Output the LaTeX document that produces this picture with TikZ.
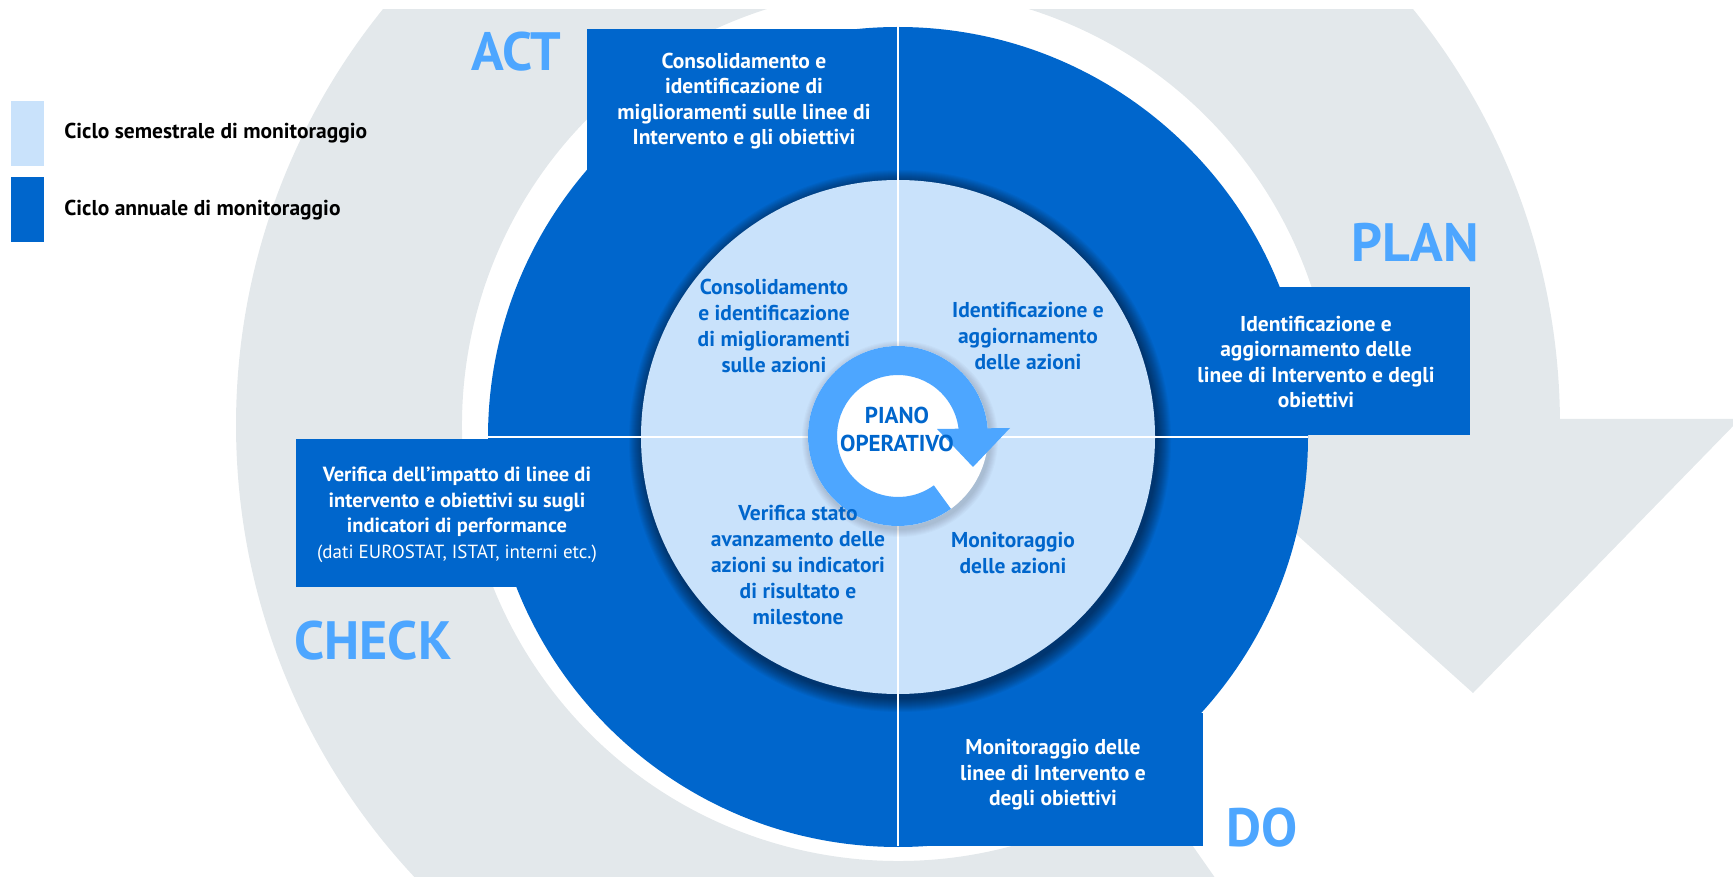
\documentclass[tikz,border=0pt]{standalone}
\usepackage{fontspec}
\setmainfont{PT Sans}
\usetikzlibrary{positioning,calc}
\definecolor{pdblue}{HTML}{0066CC}
\definecolor{pdlight}{HTML}{C9E2FB}
\definecolor{pdsky}{HTML}{4DA6FF}
\definecolor{pdgray}{HTML}{E3E8EB}

\begin{document}
\begin{tikzpicture}[x=1pt,y=1pt,
  boxtext/.style={text=white,font=\bfseries\fontsize{21.5}{25.5}\selectfont,align=center,inner sep=0pt},
  intext/.style={text=pdblue,font=\bfseries\fontsize{21.5}{26}\selectfont,align=center,inner sep=0pt},
  phase/.style={text=pdsky,font=\bfseries\fontsize{54}{54}\selectfont,anchor=base,inner sep=0pt},
  legkey/.style={minimum width=33pt,minimum height=65pt,inner sep=0pt},
  legtext/.style={font=\bfseries\fontsize{21.5}{24}\selectfont,anchor=west,inner sep=0pt}]
  \useasboundingbox (0,0) rectangle (1733,876);
  \coordinate (c) at (898,439);
  \coordinate (g) at (898,451);
  \coordinate (p) at (898,440);

  % grey cycle arrow
  \begin{scope}
    \clip (0,0) rectangle (1733,866);
    \fill[pdgray] ($(g)+(0.5:662)$) arc[start angle=0.5,end angle=305,radius=662]
      -- ($(g)+(305:436)$) arc[start angle=305,end angle=0.8,radius=436] -- cycle;
    \fill[pdgray] (1168,457) -- (1740,457) -- (1473,183) -- cycle;
  \end{scope}

  \fill[pdblue] (c) circle[radius=410];
  \fill[pdblue] (587,705) rectangle (896,847);
  \fill[pdblue] (1200,441) rectangle (1470,589);
  \fill[pdblue] (296,289) rectangle (620,437);
  \fill[pdblue] (900,30) rectangle (1203,163);

  \foreach \k in {1,...,14}
    \fill[black,opacity=0.04] ($(c)+(2,-4)$) circle[radius=257+\k];
  \fill[pdlight] (c) circle[radius=257];

  \draw[white,line width=2.5pt] ($(c)+(0,411)$) -- ($(c)+(0,-409)$);
  \draw[white,line width=2.5pt] ($(c)+(-410,0)$) -- ($(c)+(410,0)$);

  % piano operativo
  \foreach \k in {1,...,8}
    \fill[black,opacity=0.02] ($(p)+(2,-3)$) circle[radius=90+\k];
  \fill[white] (p) circle[radius=90];
  \fill[pdsky] ($(p)+(4.5:90)$) arc[start angle=4.5,end angle=306,radius=90]
    -- ($(p)+(306:61)$) arc[start angle=306,end angle=6.6,radius=61] -- cycle;
  \fill[pdsky] ($(p)+(39,7)$) -- ($(p)+(112,8)$) -- ($(p)+(75,-31)$) -- cycle;
  \node[intext,font=\bfseries\fontsize{23}{28}\selectfont] (piano) at (897,447) {PIANO\\OPERATIVO};

  \node[boxtext] (actbox) at (744,775) {Consolidamento e\\identificazione di\\miglioramenti sulle linee di\\Intervento e gli obiettivi};
  \node[boxtext] (planbox) at (1316,514) {Identificazione e\\aggiornamento delle\\linee di Intervento e degli\\obiettivi};
  \node[boxtext,font=\bfseries\fontsize{20.5}{25.5}\selectfont] (checkbox) at (457,361) {Verifica dell’impatto di linee di\\intervento e obiettivi su sugli\\indicatori di performance\\{\mdseries\fontsize{19}{25.5}\selectfont(dati EUROSTAT, ISTAT, interni etc.)}};
  \node[boxtext] (dobox) at (1053,101) {Monitoraggio delle\\linee di Intervento e\\degli obiettivi};

  \node[intext] (acttxt) at (774,550) {Consolidamento\\e identificazione\\di miglioramenti\\sulle azioni};
  \node[intext] (plantxt) at (1028,540) {Identificazione e\\aggiornamento\\delle azioni};
  \node[intext] (checktxt) at (798,311) {Verifica stato\\avanzamento delle\\azioni su indicatori\\di risultato e\\milestone};
  \node[intext] (dotxt) at (1013,323) {Monitoraggio\\delle azioni};

  \node[phase] (act) at (516,805) {ACT};
  \node[phase] (plan) at (1415,614) {PLAN};
  \node[phase] (check) at (373,216) {CHECK};
  \node[phase] (do) at (1262,30) {DO};

  \node[legkey,fill=pdlight] (semkey) at (27.5,742.5) {};
  \node[legkey,fill=pdblue] (annkey) at (27.5,666) {};
  \node[legtext,right=20pt of semkey] (semtext) {Ciclo semestrale di monitoraggio};
  \node[legtext,right=20pt of annkey] (anntext) {Ciclo annuale di monitoraggio};
\end{tikzpicture}
\end{document}
